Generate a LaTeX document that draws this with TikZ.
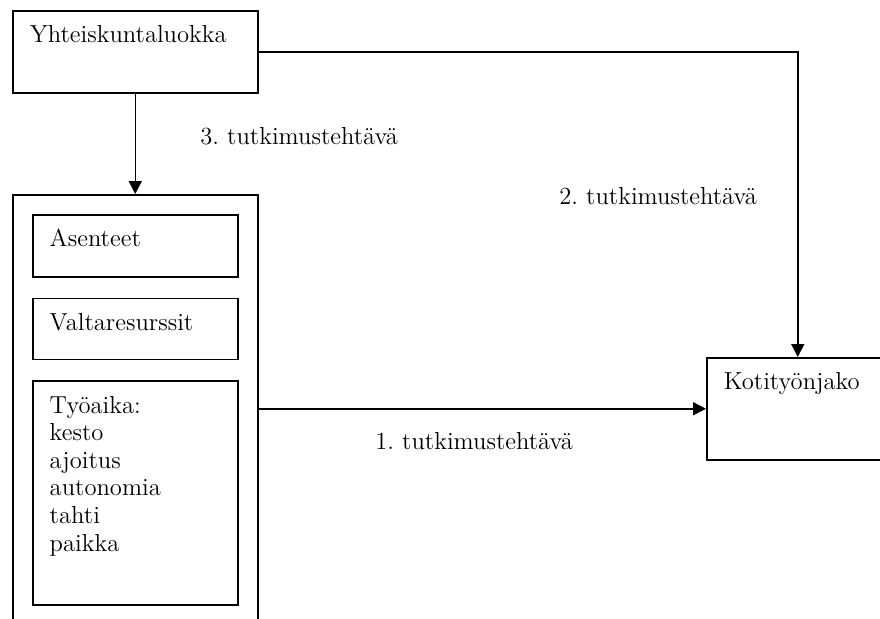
\documentclass[tikz,border=0pt]{standalone}
\usetikzlibrary{positioning,arrows.meta}

\tikzset{
  box/.style={draw, line width=0.75pt, anchor=north west, align=left, inner xsep=8.5pt, inner ysep=0pt, text height=16pt},
  kehys/.style={draw, line width=0.75pt, anchor=north west, inner sep=0pt, minimum width=122.5pt, minimum height=214pt},
  pil/.style={line width=0.75pt, -{Triangle[length=6.5pt,width=6.5pt]}},
  teht/.style={anchor=base west, inner sep=0pt}
}
\frenchspacing

\begin{document}
\begin{tikzpicture}[x=0.5pt,y=-0.5pt,font=\fontsize{12.3}{13.8}\selectfont]
	\useasboundingbox (0,0) rectangle (880,618);
	
	% laatikot
	\node [box, text width=105.5pt, text depth=25pt] (luokka) at (12,10) {Yhteiskuntaluokka};
	\node [kehys] (tekijat) at (12,194) {};
	\node [box, text width=85.5pt, text depth=15pt, below right=10pt and 10pt of tekijat.north west] (asenteet) {Asenteet};
	\node [box, text width=85.5pt, text depth=14.7pt, below=10pt of asenteet] (valta) {Valtaresurssit};
	\node [box, text width=85.5pt, text depth=96pt, below=10pt of valta] (tyoaika) {Työaika:\\kesto\\ajoitus\\autonomia\\tahti\\paikka};
	\node [box, text width=74pt, text depth=35pt] (koti) at (706,357) {Kotityönjako};
	
	% nuolet
	\draw [pil] (luokka) -- (tekijat);
	\draw [pil] (luokka.east) -| (koti.north);
	\draw [pil] (tekijat.east) -- (koti.west);
	
	% tutkimustehtävät
	\node [teht] (t3) at (200,144) {3. tutkimustehtävä};
	\node [teht] (t2) at (559,204) {2. tutkimustehtävä};
	\node [teht] (t1) at (375,449) {1. tutkimustehtävä};
	
\end{tikzpicture}
\end{document}
